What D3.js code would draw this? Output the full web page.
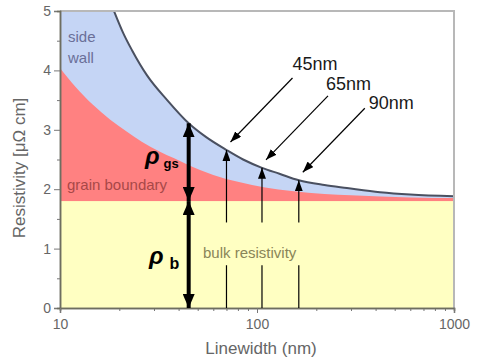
<!DOCTYPE html>
<html>
<head>
<meta charset="utf-8">
<script src="https://cdn.jsdelivr.net/npm/d3@7"></script>
<style>
  body { margin: 0; background: #fff; }
  text { font-family: "Liberation Sans", Arial, sans-serif; }
</style>
</head>
<body>
<div id="chart"></div>
<script>
// total resistivity curve (side wall + grain boundary + bulk)
const totalWidths = [18.8, 21, 23.2, 27.6, 35, 45, 55, 70, 85, 106, 130, 163, 220, 286, 421, 600, 1000];
const totalRho    = [5.0, 4.62, 4.34, 3.92, 3.5, 3.11, 2.88, 2.66, 2.5, 2.36, 2.26, 2.15, 2.07, 2.02, 1.95, 1.91, 1.88];

// grain boundary + bulk curve
const grainWidths = [10, 12, 14.7, 18, 21.6, 26, 31.8, 38, 44, 60, 81, 110, 150, 220, 300, 600, 1000];
const grainRho    = [4.04, 3.72, 3.42, 3.17, 2.98, 2.8, 2.64, 2.52, 2.42, 2.24, 2.12, 2.03, 1.97, 1.92, 1.9, 1.86, 1.85];

// bulk resistivity
const bulkRho = 1.8;

// thick double arrows at 45nm
const markWidth = 45;
const markTop = 3.11;

// thin vertical arrows and their call-outs
const nodeWidths = [70, 106, 163];
const nodeRho = [2.66, 2.36, 2.15];
const nodeLabels = ["45nm", "65nm", "90nm"];
const labelOffsets = [[0, -8], [-2, -6], [4, 1]];

const xTicks = [10, 100, 1000];
const yTicks = [0, 1, 2, 3, 4, 5];

const W = 480, H = 362;
const svg = d3.select("#chart").append("svg")
  .attr("width", W).attr("height", H);

const x = d3.scaleLog().domain([10, 1000]).range([60, 454]);
const y = d3.scaleLinear().domain([0, 5]).range([308, 11]);

const defs = svg.append("defs");
function marker(id, w, l) {
  defs.append("marker")
    .attr("id", id)
    .attr("viewBox", `0 ${-w/2} ${l} ${w}`)
    .attr("refX", l).attr("refY", 0)
    .attr("markerUnits", "userSpaceOnUse")
    .attr("markerWidth", l).attr("markerHeight", w)
    .attr("orient", "auto-start-reverse")
    .append("path")
    .attr("d", `M0,${-w/2}L${l},0L0,${w/2}Z`)
    .attr("fill", "#000");
}
marker("thick", 12, 14);
marker("thin", 8, 11);

const total = totalWidths.map((w, i) => [w, totalRho[i]]);
const grain = grainWidths.map((w, i) => [w, grainRho[i]]);

// side wall region
svg.append("rect")
  .attr("x", x(10)).attr("y", y(5))
  .attr("width", x(totalWidths[0]) - x(10) + 1)
  .attr("height", y(0) - y(5))
  .attr("fill", "#c5d5f5");

svg.append("path")
  .datum(total)
  .attr("d", d3.area().curve(d3.curveMonotoneX)
    .x(d => x(d[0])).y0(y(0)).y1(d => y(d[1])))
  .attr("fill", "#c5d5f5");

// grain boundary region
svg.append("path")
  .datum(grain)
  .attr("d", d3.area().curve(d3.curveMonotoneX)
    .x(d => x(d[0])).y0(y(0)).y1(d => y(d[1])))
  .attr("fill", "#ff8181");

// bulk region
svg.append("rect")
  .attr("x", x(10)).attr("y", y(bulkRho))
  .attr("width", x(1000) - x(10))
  .attr("height", y(0) - y(bulkRho))
  .attr("fill", "#ffffc2");

// total curve line
svg.append("path")
  .datum(total)
  .attr("d", d3.line().curve(d3.curveMonotoneX)
    .x(d => x(d[0])).y(d => y(d[1])))
  .attr("fill", "none")
  .attr("stroke", "#4a5060")
  .attr("stroke-width", 2);

// frame top and right
svg.append("path")
  .attr("d", `M${x(10)},${y(5)}H${x(1000)}V${y(0)}`)
  .attr("fill", "none")
  .attr("stroke", "#b8b8b8")
  .attr("stroke-width", 2);

// axes
svg.append("g").attr("transform", `translate(${x(10)},0)`)
  .call(d3.axisLeft(y).tickValues(yTicks).tickSize(6).tickPadding(3).tickFormat(d3.format("d")));
svg.append("g").attr("transform", `translate(${x(10)},0)`)
  .call(d3.axisLeft(y).tickValues(d3.range(0.5, 5, 1)).tickSize(3).tickFormat(""));

const minor = [];
[10, 100].forEach(b => { for (let k = 2; k < 10; k++) minor.push(b * k); });
svg.append("g").attr("transform", `translate(0,${y(0)})`)
  .call(d3.axisBottom(x).tickValues(minor).tickSize(3).tickFormat(""));
svg.append("g").attr("transform", `translate(0,${y(0)})`)
  .call(d3.axisBottom(x).tickValues(xTicks).tickSize(5).tickPadding(6).tickFormat(d3.format("d")));

svg.selectAll(".domain").attr("stroke", "#6e6e60").attr("stroke-width", 1.5);
svg.selectAll(".tick line").attr("stroke", "#777");
svg.selectAll(".tick text").attr("fill", "#666").style("font-size", "14px")
  .style("font-family", "Liberation Sans, Arial, sans-serif");

// axis titles
svg.append("text")
  .attr("x", x(100) + 4).attr("y", 354)
  .attr("text-anchor", "middle")
  .attr("fill", "#666").style("font-size", "17px")
  .text("Linewidth (nm)");
svg.append("text")
  .attr("transform", `translate(25,${168}) rotate(-90)`)
  .attr("text-anchor", "middle")
  .attr("fill", "#666").style("font-size", "17px")
  .text("Resistivity [μΩ cm]");

// region labels
svg.append("text").attr("x", 68).attr("y", 42)
  .attr("fill", "#6a6f98").style("font-size", "15px").text("side");
svg.append("text").attr("x", 68).attr("y", 63)
  .attr("fill", "#6a6f98").style("font-size", "15px").text("wall");
svg.append("text").attr("x", 67).attr("y", 190)
  .attr("fill", "#a84848").style("font-size", "15px").text("grain boundary");
svg.append("text").attr("x", 203).attr("y", 258)
  .attr("fill", "#8a8558").style("font-size", "15px").text("bulk resistivity");

// thick double arrows
const mx = x(markWidth);
svg.append("line")
  .attr("x1", mx).attr("x2", mx)
  .attr("y1", y(bulkRho)).attr("y2", y(markTop))
  .attr("stroke", "#000").attr("stroke-width", 4)
  .attr("marker-start", "url(#thick)").attr("marker-end", "url(#thick)");
svg.append("line")
  .attr("x1", mx).attr("x2", mx)
  .attr("y1", y(bulkRho)).attr("y2", y(0))
  .attr("stroke", "#000").attr("stroke-width", 4)
  .attr("marker-start", "url(#thick)").attr("marker-end", "url(#thick)");

// rho labels
const rgs = svg.append("text").attr("x", 145).attr("y", 164)
  .style("font-size", "24px").style("font-weight", "bold").style("font-style", "italic")
  .attr("fill", "#000");
rgs.append("tspan").text("ρ");
rgs.append("tspan").attr("dx", 4).attr("dy", 4)
  .style("font-size", "13px").style("font-style", "normal").text("gs");
const rb = svg.append("text").attr("x", 149).attr("y", 264)
  .style("font-size", "24px").style("font-weight", "bold").style("font-style", "italic")
  .attr("fill", "#000");
rb.append("tspan").text("ρ");
rb.append("tspan").attr("dx", 6).attr("dy", 5)
  .style("font-size", "16px").style("font-style", "normal").text("b");

// thin vertical arrows, broken around the bulk label
nodeWidths.forEach((w, i) => {
  svg.append("line")
    .attr("x1", x(w)).attr("x2", x(w))
    .attr("y1", y(0)).attr("y2", y(0.72))
    .attr("stroke", "#000").attr("stroke-width", 1.2);
  svg.append("line")
    .attr("x1", x(w)).attr("x2", x(w))
    .attr("y1", y(1.44)).attr("y2", y(nodeRho[i]))
    .attr("stroke", "#000").attr("stroke-width", 1.2)
    .attr("marker-end", "url(#thin)");

  // diagonal call-out arrows
  const tx = x(w) + 4, ty = y(nodeRho[i]) - 8;
  const sx = tx + 62, sy = ty - 64;
  svg.append("line")
    .attr("x1", sx).attr("y1", sy).attr("x2", tx).attr("y2", ty)
    .attr("stroke", "#000").attr("stroke-width", 1.2)
    .attr("marker-end", "url(#thin)");
  svg.append("text")
    .attr("x", sx + labelOffsets[i][0]).attr("y", sy + labelOffsets[i][1])
    .attr("fill", "#1a1a1a").style("font-size", "18px")
    .text(nodeLabels[i]);
});
</script>
</body>
</html>
